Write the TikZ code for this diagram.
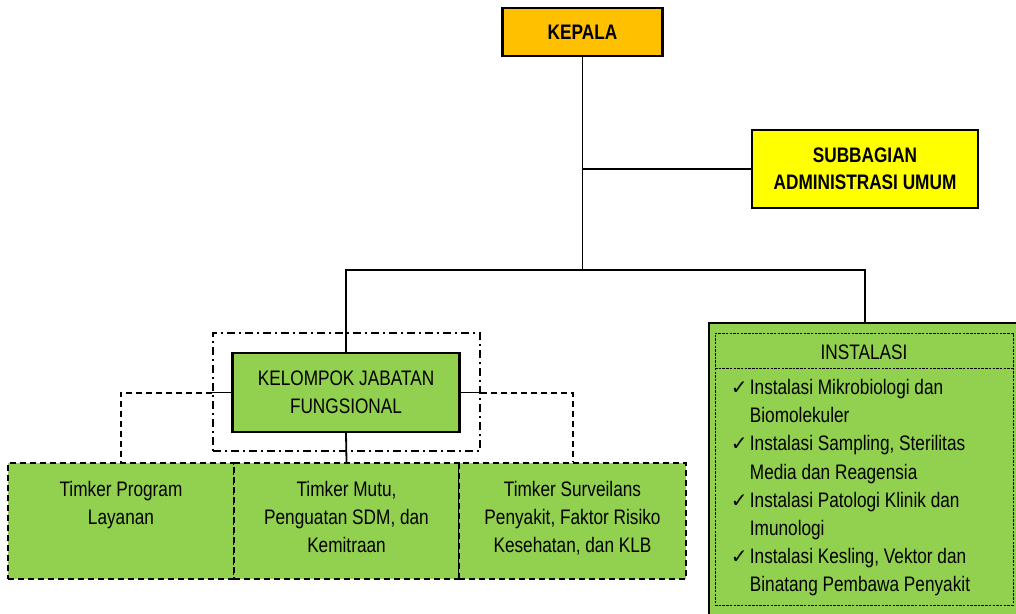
\documentclass[tikz,border=0pt]{standalone}
\usepackage{fontspec}
\setmainfont{Liberation Sans}[FakeStretch=0.82]
\newfontfamily\chkfont{DejaVu Sans}
\definecolor{kepalaC}{HTML}{FFC000}
\definecolor{subC}{HTML}{FFFF00}
\definecolor{grnC}{HTML}{92D050}
\begin{document}
\begin{tikzpicture}[x=1pt,y=-1pt,line width=1.8pt,
  every node/.style={font=\fontsize{21}{28}\selectfont},
  solidbox/.style={draw,line width=2.2pt,inner sep=0pt},
  timbox/.style={draw,fill=grnC,line width=2.2pt,dash pattern=on 6pt off 4pt,inner sep=0pt,minimum height=116pt},
  timtext/.style={anchor=north,inner sep=0pt,align=center},
  frame/.style={draw,line width=1.8pt,dash pattern=on 8pt off 4pt on 2pt off 4pt,inner sep=0pt},
  conn/.style={line width=1.8pt},
  dconn/.style={line width=2pt,dash pattern=on 6pt off 4pt},
  listline/.style={anchor=base west,inner sep=0pt}]
\useasboundingbox (0,0) rectangle (1016,613);
\clip (0,0) rectangle (1016,613);

% top boxes
\node[solidbox,fill=kepalaC,minimum width=160pt,minimum height=48pt,font=\fontsize{21}{28}\selectfont\bfseries] (kepala) at (582.5,32) {KEPALA};
\node[solidbox,fill=subC,minimum width=226pt,minimum height=78pt,align=center,font=\fontsize{21}{27}\selectfont\bfseries] (sub) at (865,169) {SUBBAGIAN\\ADMINISTRASI UMUM};

\coordinate (bar) at (582.5,270);

% Kelompok jabatan fungsional
\node[frame,minimum width=267pt,minimum height=118pt] (frm) at (346.5,392) {};
\node[solidbox,fill=grnC,minimum width=227pt,minimum height=79pt,align=center] (kjf) at (346,392.5) {KELOMPOK JABATAN\\FUNGSIONAL};

% Timker boxes
\node[timbox,minimum width=226pt] (tim1) at (121,521) {};
\node[timbox,minimum width=225pt] (tim2) at (346.5,521) {};
\node[timbox,minimum width=227pt] (tim3) at (572.5,521) {};
\node[timtext] (t1) at (121,480) {Timker Program\\Layanan};
\node[timtext] (t2) at (346.5,480) {Timker Mutu,\\Penguatan SDM, dan\\Kemitraan};
\node[timtext] (t3) at (572.5,480) {Timker Surveilans\\Penyakit, Faktor Risiko\\Kesehatan, dan KLB};

% Instalasi
\node[solidbox,fill=grnC,minimum width=312pt,minimum height=320pt] (inst) at (865,483) {};
\node[draw,line width=0.8pt,dash pattern=on 2.5pt off 1.2pt,minimum width=298pt,minimum height=272pt,inner sep=0pt] (insti) at (864,469) {};
\coordinate (divL) at (715,368);
\coordinate (divR) at (1013,368);
\draw[line width=0.8pt,dash pattern=on 2.5pt off 1.2pt] (divL) -- (divR);
\node[inner sep=0pt] (insttitle) at (864,352) {INSTALASI};
\foreach \i/\c/\t in {0/1/{Instalasi Mikrobiologi dan},1/0/{Biomolekuler},2/1/{Instalasi Sampling, Sterilitas},3/0/{Media dan Reagensia},4/1/{Instalasi Patologi Klinik dan},5/0/{Imunologi},6/1/{Instalasi Kesling, Vektor dan},7/0/{Binatang Pembawa Penyakit}}{
  \ifnum\c=1
    \node[listline] (li\i) at (730,394.5+28.2*\i) {\makebox[19pt][l]{\chkfont\fontsize{20}{20}\selectfont ✓}\t};
  \else
    \node[listline] (li\i) at (749,394.5+28.2*\i) {\t};
  \fi
}

% connectors
\draw[conn] (kepala.south) -- (bar);
\draw[conn] (kepala.south |- sub.west) -- (sub.west);
\draw[conn] (kjf.north) |- (bar);
\draw[conn] (bar) -| (inst.north);
\draw[conn] (kjf.south) -- (tim2.north);
\draw[conn] (kjf.west) -- (frm.west |- kjf.west);
\draw[dconn] (frm.west |- kjf.west) -| (tim1.north);
\draw[conn] (kjf.east) -- (frm.east |- kjf.east);
\draw[dconn] (frm.east |- kjf.east) -| (tim3.north);
\end{tikzpicture}
\end{document}
